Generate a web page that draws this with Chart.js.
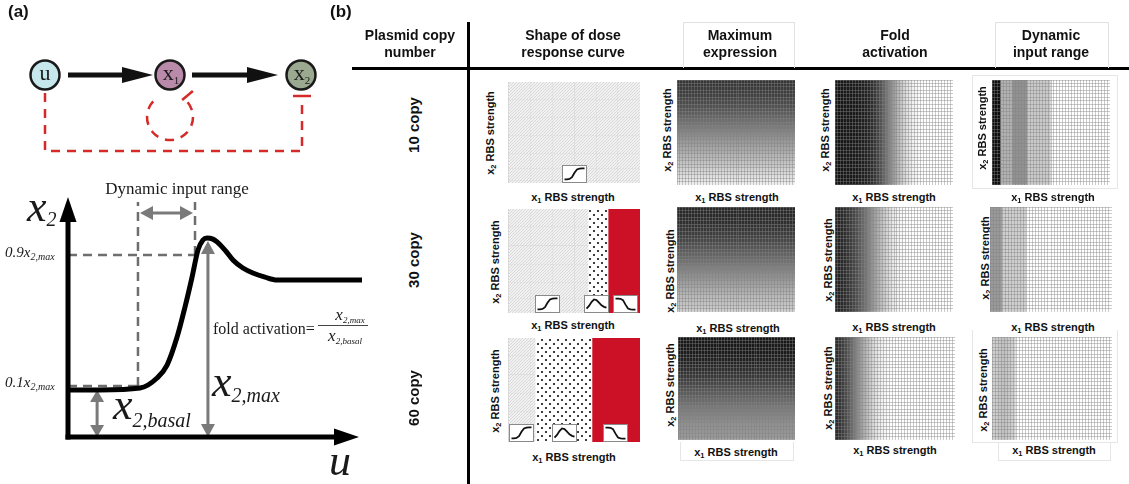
<!DOCTYPE html>
<html>
<head>
<meta charset="utf-8">
<script src="https://cdn.jsdelivr.net/npm/chart.js@4.4.1/dist/chart.umd.min.js"></script>
<style>
  body { margin: 0; background: #fff; }
  #root { position: relative; width: 1129px; height: 484px; overflow: hidden; background: #fff; }
  .t { position: absolute; white-space: nowrap; line-height: 1; }
  .serif { font-family: 'Liberation Serif', 'Times New Roman', serif; color: #1a1a1a; }
  .sans { font-family: 'Liberation Sans', Arial, sans-serif; font-weight: bold; color: #111; }
  .ln { position: absolute; }
</style>
</head>
<body>
<div id="root"></div>
<script>
// ---- (a) schematic dose response curve ----
const doseU  = [0, 1.09, 2.45, 3.03, 3.37, 3.71, 3.98, 4.22, 4.42, 4.59, 4.73, 4.93, 5.07, 5.34, 5.61, 5.95, 6.29, 6.70, 7.11, 10];
const doseX2 = [0.197, 0.197, 0.205, 0.247, 0.301, 0.418, 0.544, 0.669, 0.782, 0.824, 0.833, 0.828, 0.816, 0.782, 0.741, 0.707, 0.686, 0.669, 0.657, 0.657];
const levelLow = 0.213, levelHigh = 0.762;   // 0.1 and 0.9 x2,max guides
const inputLow = 2.38, inputHigh = 4.32;     // dynamic input range
const guideTop = 0.983, rangeArrowY = 0.937;
const basalU = 0.99, peakU = 4.76, peakTop = 0.82;

// ---- (b) table ----
const copyLabels = ['10 copy', '30 copy', '60 copy'];

// dose response shape regions along x1 RBS strength
const shapeEdges10 = [0, 1];
const shapeEdges30 = [0, 0.606, 0.758, 1];
const shapeEdges60 = [0, 0.205, 0.636, 1];
const shapeKinds10 = ['sigmoid'];
const shapeKinds30 = ['sigmoid', 'bell', 'decreasing'];
const shapeKinds60 = ['sigmoid', 'bell', 'decreasing'];
const insetAt10 = [0.5];
const insetAt30 = [0.295, 0.667, 0.89];
const insetAt60 = [0.098, 0.428, 0.814];
const iconSigmoid    = [0.08, 0.09, 0.12, 0.25, 0.6, 0.85, 0.92, 0.93, 0.93];
const iconBell       = [0.15, 0.35, 0.65, 0.85, 0.8, 0.6, 0.4, 0.28, 0.22];
const iconDecreasing = [0.92, 0.92, 0.9, 0.8, 0.45, 0.15, 0.08, 0.06, 0.06];

// maximum expression: darkness per x2 row (top to bottom)
const maxExpr10 = [0.84,0.83,0.82,0.81,0.79,0.77,0.75,0.73,0.70,0.67,0.64,0.61,0.58,0.55,0.52,0.49,0.46,0.43,0.40,0.37,0.34,0.31,0.28,0.25,0.22,0.19,0.16,0.13,0.10,0.07];
const maxExpr30 = [0.90,0.90,0.89,0.88,0.87,0.85,0.83,0.81,0.79,0.77,0.74,0.71,0.68,0.65,0.62,0.59,0.56,0.53,0.50,0.47,0.44,0.41,0.38,0.35,0.32,0.29,0.27,0.25,0.23,0.21];
const maxExpr60 = [0.97,0.97,0.96,0.96,0.95,0.94,0.93,0.91,0.89,0.87,0.85,0.83,0.80,0.77,0.74,0.71,0.68,0.65,0.62,0.59,0.56,0.54,0.52,0.50,0.48,0.46,0.45,0.44,0.43,0.42];

// fold activation: darkness per x1 column (left to right)
const fold10 = [0.97,0.97,0.97,0.96,0.96,0.96,0.95,0.95,0.94,0.93,0.92,0.90,0.87,0.83,0.78,0.72,0.65,0.58,0.51,0.44,0.37,0.30,0.24,0.18,0.13,0.09,0.06,0.04,0.02,0.01,0,0,0,0,0,0,0,0,0,0];
const fold30 = [0.92,0.91,0.89,0.87,0.84,0.81,0.77,0.73,0.68,0.63,0.58,0.52,0.46,0.40,0.34,0.28,0.23,0.18,0.14,0.10,0.07,0.05,0.03,0.02,0.01,0,0,0,0,0,0,0,0,0,0,0,0,0,0,0];
const fold60 = [0.88,0.85,0.81,0.76,0.70,0.63,0.56,0.49,0.42,0.35,0.29,0.23,0.18,0.13,0.09,0.06,0.04,0.02,0.01,0,0,0,0,0,0,0,0,0,0,0,0,0,0,0,0,0,0,0,0,0];

// dynamic input range: darkness per x1 column
const dyn10 = [1,1,1,0.32,0.32,0.32,0.32,0.46,0.46,0.46,0.46,0.46,0.22,0.22,0.22,0.22,0.22,0.22,0.22,0.22,0,0,0,0,0,0,0,0,0,0,0,0,0,0,0,0,0,0,0,0];
const dyn30 = [0.42,0.42,0.42,0.42,0.2,0.2,0.2,0.2,0.2,0.2,0.2,0.2,0,0,0,0,0,0,0,0,0,0,0,0,0,0,0,0,0,0,0,0,0,0,0,0,0,0,0,0];
const dyn60 = [0.2,0.21,0.23,0.25,0.25,0.23,0.2,0.17,0,0,0,0,0,0,0,0,0,0,0,0,0,0,0,0,0,0,0,0,0,0,0,0,0,0,0,0,0,0,0,0];

const gridCols = 40, gridRows = 30;

Chart.defaults.animation = false;
Chart.defaults.responsive = false;
Chart.defaults.events = [];
Chart.defaults.plugins.legend.display = false;
Chart.defaults.plugins.tooltip.enabled = false;

const root = document.getElementById('root');

function makeCanvas(l, t, w, h) {
  const c = document.createElement('canvas');
  c.width = w; c.height = h;
  c.style.cssText = `position:absolute;left:${l}px;top:${t}px;width:${w}px;height:${h}px`;
  root.appendChild(c);
  return c;
}
function put(html, x, y, cls, size, tf, extra) {
  const d = document.createElement('div');
  d.className = 't ' + cls;
  d.style.fontSize = size + 'px';
  d.style.left = x + 'px';
  d.style.top = y + 'px';
  if (tf) d.style.transform = tf;
  if (extra) Object.assign(d.style, extra);
  d.innerHTML = html;
  root.appendChild(d);
  return d;
}
// serif text placed by its baseline
function serif(html, x, base, size, center) {
  return put(html, x, base - 0.8375 * size, 'serif', size, center ? 'translateX(-50%)' : '', {fontStyle: 'italic'});
}
function sub(txt, size, dy) {
  return `<span style="font-size:${size}px;position:relative;top:${dy}px">${txt}</span>`;
}
function box(l, t, w, h, css) {
  const d = document.createElement('div');
  d.className = 'ln';
  d.style.cssText += `left:${l}px;top:${t}px;width:${w}px;height:${h}px;` + css;
  root.appendChild(d);
}

function seg(ctx, x1, y1, x2, y2) { ctx.beginPath(); ctx.moveTo(x1, y1); ctx.lineTo(x2, y2); ctx.stroke(); }
function head(ctx, tx, ty, dx, dy, len, half) {
  const bx = tx - dx * len, by = ty - dy * len;
  ctx.beginPath();
  ctx.moveTo(tx, ty);
  ctx.lineTo(bx - dy * half, by + dx * half);
  ctx.lineTo(bx + dy * half, by - dx * half);
  ctx.closePath(); ctx.fill();
}
function dbl(ctx, x1, y1, x2, y2, len, half) {
  const L = Math.hypot(x2 - x1, y2 - y1), dx = (x2 - x1) / L, dy = (y2 - y1) / L;
  seg(ctx, x1 + dx * (len - 2), y1 + dy * (len - 2), x2 - dx * (len - 2), y2 - dy * (len - 2));
  head(ctx, x2, y2, dx, dy, len, half);
  head(ctx, x1, y1, -dx, -dy, len, half);
}

// ---------- panel (a) ----------
const schematic = {
  id: 'schematic',
  beforeDatasetsDraw(chart) {
    const {ctx, chartArea, scales: {x, y}} = chart;
    const X = v => x.getPixelForValue(v), Y = v => y.getPixelForValue(v);
    const x0 = X(0), y0 = Y(0);
    ctx.save();
    ctx.strokeStyle = '#6e6e6e'; ctx.lineWidth = 2.5; ctx.setLineDash([9, 6]);
    seg(ctx, x0, Y(levelHigh), X(inputHigh), Y(levelHigh));
    seg(ctx, x0, Y(levelLow), X(inputLow), Y(levelLow));
    seg(ctx, X(inputLow), Y(levelLow), X(inputLow), Y(guideTop));
    seg(ctx, X(inputHigh), Y(levelHigh), X(inputHigh), Y(guideTop));
    ctx.setLineDash([]);
    ctx.strokeStyle = '#7a7a7a'; ctx.fillStyle = '#7a7a7a'; ctx.lineWidth = 3;
    dbl(ctx, X(inputLow) + 2, Y(rangeArrowY), X(inputHigh) - 2, Y(rangeArrowY), 13, 7);
    dbl(ctx, X(basalU), y0, X(basalU), Y(doseX2[0]), 12, 7);
    dbl(ctx, X(peakU), y0, X(peakU), Y(peakTop), 13, 7);
    // axes with arrow heads
    ctx.strokeStyle = '#000'; ctx.fillStyle = '#000'; ctx.lineWidth = 5;
    seg(ctx, x0, y0 + 2.5, x0, chartArea.top + 20);
    head(ctx, x0, chartArea.top - 1, 0, -1, 25, 8.5);
    seg(ctx, x0 - 2.5, y0, chartArea.right - 25, y0);
    head(ctx, chartArea.right - 3, y0, 1, 0, 25, 8.5);
    ctx.restore();
  },
  afterDraw(chart) {
    const ctx = chart.ctx;
    ctx.save();
    ctx.strokeStyle = '#111'; ctx.fillStyle = '#111'; ctx.lineWidth = 5;
    seg(ctx, 68, 75, 125, 75); head(ctx, 153, 75, 1, 0, 31, 8);
    seg(ctx, 192, 75, 250, 75); head(ctx, 278, 75, 1, 0, 31, 8);
    ctx.strokeStyle = '#d42a2a'; ctx.lineWidth = 2.5; ctx.setLineDash([9, 7]);
    ctx.beginPath(); ctx.moveTo(45, 93); ctx.lineTo(45, 151); ctx.lineTo(302, 151); ctx.lineTo(302, 101); ctx.stroke();
    ctx.beginPath(); ctx.arc(170, 117, 23, 223 * Math.PI / 180, -40 * Math.PI / 180, true); ctx.stroke();
    ctx.setLineDash([]);
    seg(ctx, 293, 96, 311, 96);
    const a = -40 * Math.PI / 180, cx = 187.5, cy = 95.5;
    seg(ctx, cx - Math.cos(a) * 7, cy - Math.sin(a) * 7, cx + Math.cos(a) * 7, cy + Math.sin(a) * 7);
    const nodes = [[45, '#c6e7ec'], [170, '#b98aa9'], [301, '#9aa98f']];
    ctx.lineWidth = 2.5; ctx.strokeStyle = '#1a1a1a';
    nodes.forEach(([nx, col]) => {
      ctx.beginPath(); ctx.arc(nx, 75, 14.5, 0, Math.PI * 2);
      ctx.fillStyle = col; ctx.fill(); ctx.stroke();
    });
    ctx.restore();
  }
};

new Chart(makeCanvas(0, 0, 370, 484), {
  type: 'line',
  data: {
    datasets: [{
      data: doseU.map((u, i) => ({x: u, y: doseX2[i]})),
      borderColor: '#000', borderWidth: 5, pointRadius: 0,
      cubicInterpolationMode: 'monotone'
    }]
  },
  options: {
    layout: {padding: {left: 68, top: 198, right: 8, bottom: 47}},
    scales: {
      x: {type: 'linear', min: 0, max: 10, display: false},
      y: {min: 0, max: 1, display: false}
    }
  },
  plugins: [schematic]
});

put('(a)', 8, 11, 'sans', 17, 'translateY(-50%)');
put('(b)', 330, 11, 'sans', 17, 'translateY(-50%)');
serif('u', 45, 80, 22, true).style.fontStyle = 'normal';
serif('x' + sub('1', 11, 4), 171, 80, 22, true).style.fontStyle = 'normal';
serif('x' + sub('2', 11, 4), 302, 80, 22, true).style.fontStyle = 'normal';
serif('Dynamic input range', 177, 194, 17, true).style.fontStyle = 'normal';
serif('x' + sub('2', 20, 5), 27, 222, 44);
serif('0.9x' + sub('2,max', 10, 3), 5, 258, 15);
serif('0.1x' + sub('2,max', 10, 3), 5, 388, 15);
serif('fold activation=', 213, 334, 16).style.fontStyle = 'normal';
serif('x' + sub('2,max', 9, 3), 350, 320, 17, true);
box(318, 325, 50, 1, 'background:#444');
serif('x' + sub('2,basal', 9, 3), 345, 341, 17, true);
serif('x' + sub('2,max', 20, 6), 212, 397, 44);
serif('x' + sub('2,basal', 20, 8), 113, 420, 44);
serif('u', 329, 476, 44);

// ---------- panel (b) ----------
box(467, 22, 3, 462, 'background:#000');
box(352, 67, 777, 3, 'background:#000');
box(683, 22, 110, 45, 'border:1px solid #e2e2e2;border-bottom:none');
box(995, 22, 112, 45, 'border:1px solid #e2e2e2;border-bottom:none');
box(972, 75, 144, 112, 'border:1px solid #e6e6e6');
box(680, 442, 112, 18, 'border:1px solid #e6e6e6;border-top:none');
box(972, 330, 144, 112, 'border:1px solid #e6e6e6;border-top:none');
box(998, 442, 111, 18, 'border:1px solid #e6e6e6;border-top:none');

const headers = [['Plasmid copy<br>number', 410], ['Shape of dose<br>response curve', 573],
  ['Maximum<br>expression', 740], ['Fold<br>activation', 895], ['Dynamic<br>input range', 1051]];
headers.forEach(([h, cx]) => put(h, cx, 44, 'sans', 14, 'translate(-50%,-50%)', {lineHeight: '17px', textAlign: 'center'}));

const rowY = [125, 260, 398];
copyLabels.forEach((lab, i) => put(lab, 413, rowY[i], 'sans', 15, 'translate(-50%,-50%) rotate(-90deg)'));

// plot rectangles [left, top, width, height]
const shapeBoxes = [[508, 82, 132, 101], [508, 209, 132, 104], [508, 338, 132, 104]];
const maxBoxes   = [[677, 80, 118, 105], [677, 207, 118, 105], [678, 337, 117, 103]];
const foldBoxes  = [[835, 80, 118, 105], [835, 207, 118, 105], [835, 337, 120, 103]];
const dynBoxes   = [[992, 80, 118, 105], [990, 207, 122, 105], [992, 337, 120, 103]];
const xLabelPos = [[[573, 197], [737, 197], [894, 197], [1053, 197]],
                   [[573, 325], [738, 328], [894, 327], [1053, 327]],
                   [[574, 457], [736, 452], [895, 450], [1054, 450]]];
const yLabelPos = [[[490, 133], [667, 130], [825, 130], [982, 128]],
                   [[495, 262], [670, 271], [828, 260], [985, 258]],
                   [[495, 391], [670, 385], [828, 388], [983, 390]]];
xLabelPos.forEach(r => r.forEach(([x, y]) => put('x' + sub('1', 7.5, 2) + ' RBS strength', x, y, 'sans', 11, 'translate(-50%,-50%)')));
yLabelPos.forEach(r => r.forEach(([x, y]) => put('x' + sub('2', 7.5, 2) + ' RBS strength', x, y, 'sans', 11, 'translate(-50%,-50%) rotate(-90deg)')));

const tmp = document.createElement('canvas').getContext('2d');
function hatchFill() {
  const p = document.createElement('canvas'); p.width = p.height = 3;
  const g = p.getContext('2d');
  g.fillStyle = 'rgba(238,238,238,0.8)'; g.fillRect(0, 0, 3, 3);
  g.fillStyle = 'rgba(214,214,214,0.85)';
  g.fillRect(2, 0, 1, 1); g.fillRect(1, 1, 1, 1); g.fillRect(0, 2, 1, 1);
  return tmp.createPattern(p, 'repeat');
}
function dotFill() {
  const p = document.createElement('canvas'); p.width = p.height = 8;
  const g = p.getContext('2d');
  g.fillStyle = '#fff'; g.fillRect(0, 0, 8, 8);
  g.fillStyle = '#111';
  [[2, 2], [6, 6]].forEach(([x, y]) => { g.beginPath(); g.arc(x, y, 1.1, 0, Math.PI * 2); g.fill(); });
  return tmp.createPattern(p, 'repeat');
}
const fills = {sigmoid: hatchFill(), bell: dotFill(), decreasing: '#cc1126'};
const icons = {sigmoid: iconSigmoid, bell: iconBell, decreasing: iconDecreasing};

const insetPlugin = {
  id: 'insets',
  afterDatasetsDraw(chart, args, opts) {
    const {ctx, chartArea, scales: {x}} = chart;
    const w = 24, h = 17;
    opts.at.forEach((v, i) => {
      const left = Math.round(x.getPixelForValue(v) - w / 2) + 0.5, top = Math.round(chartArea.bottom - h - 1) + 0.5;
      ctx.save();
      ctx.fillStyle = '#fff'; ctx.fillRect(left, top, w, h);
      ctx.strokeStyle = '#8a8a8a'; ctx.lineWidth = 1; ctx.strokeRect(left, top, w, h);
      const pts = icons[opts.kinds[i]];
      ctx.strokeStyle = '#111'; ctx.lineWidth = 1.8; ctx.beginPath();
      pts.forEach((p, k) => {
        const px = left + 2 + k * (w - 4) / (pts.length - 1), py = top + 2 + (1 - p) * (h - 4);
        k ? ctx.lineTo(px, py) : ctx.moveTo(px, py);
      });
      ctx.stroke();
      ctx.restore();
    });
  }
};

function shapeChart(bx, edges, kinds, at) {
  new Chart(makeCanvas(...bx), {
    type: 'bar',
    data: {
      labels: ['x1'],
      datasets: kinds.map((k, i) => ({
        data: [[edges[i], edges[i + 1]]], backgroundColor: fills[k], borderWidth: 0,
        barPercentage: 1, categoryPercentage: 1, grouped: false
      }))
    },
    options: {
      indexAxis: 'y',
      scales: {
        x: {type: 'linear', min: 0, max: 1, ticks: {display: false, stepSize: 1 / 6},
            grid: {color: '#a8a8a8', drawTicks: false}, border: {display: false, dash: [2, 1]}},
        y: {display: false},
        yg: {type: 'linear', axis: 'y', reverse: true, min: 0, max: 1, ticks: {display: false, stepSize: 0.215},
             grid: {color: '#a8a8a8', drawTicks: false}, border: {display: false, dash: [2, 1]}}
      },
      plugins: {insets: {at, kinds}}
    },
    plugins: [insetPlugin]
  });
}

function heatColor(v) { const g = Math.round(255 - v * 240); return `rgb(${g},${g},${g})`; }
function heatmap(bx, rowVals, colVals) {
  const labels = Array.from({length: gridCols}, (_, i) => i + 1);
  const datasets = [];
  for (let k = 0; k < gridRows; k++) {
    const r = gridRows - 1 - k; // dataset 0 sits at the bottom of the stack
    datasets.push({
      data: labels.map(() => 1),
      backgroundColor: labels.map((_, c) => heatColor(rowVals ? rowVals[r] : colVals[c])),
      borderWidth: 0, barPercentage: 1, categoryPercentage: 1
    });
  }
  const grid = {color: 'rgba(128,128,128,0.42)', drawTicks: false, z: 1};
  new Chart(makeCanvas(...bx), {
    type: 'bar',
    data: {labels, datasets},
    options: {
      scales: {
        x: {stacked: true, ticks: {display: false}, grid: {...grid, offset: true}, border: {display: false}},
        y: {stacked: true, min: 0, max: gridRows, ticks: {display: false, stepSize: 1, maxTicksLimit: 200}, grid, border: {display: false}}
      }
    }
  });
}

shapeChart(shapeBoxes[0], shapeEdges10, shapeKinds10, insetAt10);
shapeChart(shapeBoxes[1], shapeEdges30, shapeKinds30, insetAt30);
shapeChart(shapeBoxes[2], shapeEdges60, shapeKinds60, insetAt60);
heatmap(maxBoxes[0], maxExpr10, null);
heatmap(maxBoxes[1], maxExpr30, null);
heatmap(maxBoxes[2], maxExpr60, null);
heatmap(foldBoxes[0], null, fold10);
heatmap(foldBoxes[1], null, fold30);
heatmap(foldBoxes[2], null, fold60);
heatmap(dynBoxes[0], null, dyn10);
heatmap(dynBoxes[1], null, dyn30);
heatmap(dynBoxes[2], null, dyn60);
</script>
</body>
</html>
